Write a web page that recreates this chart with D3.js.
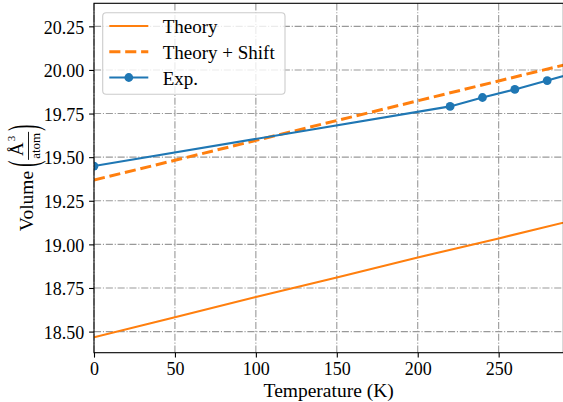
<!DOCTYPE html>
<html><head><meta charset="utf-8">
<script src="https://cdn.jsdelivr.net/npm/d3@7"></script>
<style>html,body{margin:0;padding:0;overflow:hidden;background:#fff}
svg text{font-family:"Liberation Serif",serif;fill:#000}</style>
</head><body><svg id="c" width="563" height="402"></svg>
<script>
const xTicks = [0, 50, 100, 150, 200, 250];
const yTicks = [18.50, 18.75, 19.00, 19.25, 19.50, 19.75, 20.00, 20.25];
const theoryT = [0, 50, 100, 150, 200, 250, 300];
const theoryV = [18.467, 18.582, 18.698, 18.810, 18.925, 19.034, 19.147];
const shiftT = [0, 50, 100, 150, 200, 250, 300];
const shiftV = [19.369, 19.482, 19.596, 19.710, 19.823, 19.937, 20.050];
const expT = [0, 220, 240, 260, 280, 300];
const expV = [19.449, 19.791, 19.842, 19.888, 19.939, 19.992];
const legendLabels = ["Theory", "Theory + Shift", "Exp."];

const C_BLUE = "#1f77b4", C_ORANGE = "#ff7f0e";
const L = 94, R = 563.4, T = 3.3, B = 352.7;

const svg = d3.select("#c");
const x = d3.scaleLinear([0, 290], [L, R]);
const y = d3.scaleLinear([18.379, 20.382], [B, T]);

svg.append("defs").append("clipPath").attr("id", "clip")
  .append("rect").attr("x", L).attr("y", T).attr("width", R - L).attr("height", B - T);

// grid
const grid = svg.append("g").attr("stroke", "#999").attr("stroke-width", 1.1)
  .attr("stroke-dasharray", "7.1 1.8 1.1 1.8").attr("fill", "none");
grid.selectAll(".gx").data(xTicks).join("line")
  .attr("x1", d => x(d)).attr("x2", d => x(d)).attr("y1", T).attr("y2", B);
grid.selectAll(".gy").data(yTicks).join("line")
  .attr("y1", d => y(d)).attr("y2", d => y(d)).attr("x1", L).attr("x2", R);

// data
const plot = svg.append("g").attr("clip-path", "url(#clip)");
const line = d3.line().x(d => x(d[0])).y(d => y(d[1]));
plot.append("path").datum(d3.zip(theoryT, theoryV)).attr("d", line)
  .attr("fill", "none").attr("stroke", C_ORANGE).attr("stroke-width", 2.1);
plot.append("path").datum(d3.zip(shiftT, shiftV)).attr("d", line)
  .attr("fill", "none").attr("stroke", C_ORANGE).attr("stroke-width", 3)
  .attr("stroke-dasharray", "11.1 4.8");
plot.append("path").datum(d3.zip(expT, expV)).attr("d", line)
  .attr("fill", "none").attr("stroke", C_BLUE).attr("stroke-width", 2.1);
plot.selectAll(".m").data(d3.zip(expT, expV)).join("circle")
  .attr("cx", d => x(d[0])).attr("cy", d => y(d[1])).attr("r", 4.4).attr("fill", C_BLUE);

// axes
const ax = svg.append("g").attr("transform", `translate(0,${B})`)
  .call(d3.axisBottom(x).tickValues(xTicks).tickFormat(d3.format("d")).tickSize(4.9).tickPadding(4.9).tickSizeOuter(0));
const ay = svg.append("g").attr("transform", `translate(${L},0)`)
  .call(d3.axisLeft(y).tickValues(yTicks).tickFormat(d3.format(".2f")).tickSize(4.9).tickPadding(4.9).tickSizeOuter(0));
[ax, ay].forEach(g => {
  g.attr("font-family", null).attr("font-size", null);
  g.select(".domain").remove();
  g.selectAll("line").attr("stroke", "#000").attr("stroke-width", 1.1);
  g.selectAll("text").attr("font-size", 18);
});
ay.selectAll("text").attr("dy", "0.38em");

// spines
svg.append("rect").attr("x", L).attr("y", T).attr("width", R - L).attr("height", B - T)
  .attr("fill", "none").attr("stroke", "#000").attr("stroke-width", 1.1);

// x label
svg.append("text").attr("x", (L + R) / 2).attr("y", 396.5).attr("text-anchor", "middle")
  .attr("font-size", 19.5).text("Temperature (K)");

// y label (rotated, with fraction)
const yl = svg.append("g");
const inner = yl.append("g");
let u = 0;
const tVol = inner.append("text").attr("x", 0).attr("y", 0).attr("font-size", 19.5).text("Volume");
u += tVol.node().getComputedTextLength() + 4;
const PS = 2.3, PB = 3.5;
const lp = inner.append("text").attr("font-size", 18).attr("transform", `translate(${u},${PB}) scale(1,${PS})`)
  .text("(");
u += lp.node().getComputedTextLength() + 1;
const num = inner.append("text").attr("font-size", 19).attr("y", -10.5).text("Å");
const sup = inner.append("text").attr("font-size", 11).attr("y", -18).text("3");
const den = inner.append("text").attr("font-size", 13).attr("y", 6.5).text("atom");
const wNum = num.node().getComputedTextLength() + sup.node().getComputedTextLength() + 1;
const wDen = den.node().getComputedTextLength();
const wFr = Math.max(wNum, wDen) + 2;
num.attr("x", u + (wFr - wNum) / 2);
sup.attr("x", u + (wFr - wNum) / 2 + num.node().getComputedTextLength() + 1);
den.attr("x", u + (wFr - wDen) / 2);
inner.append("line").attr("x1", u).attr("x2", u + wFr).attr("y1", -4.5).attr("y2", -4.5)
  .attr("stroke", "#000").attr("stroke-width", 0.9);
u += wFr + 1;
const rp = inner.append("text").attr("font-size", 18).attr("transform", `translate(${u},${PB}) scale(1,${PS})`)
  .text(")");
u += rp.node().getComputedTextLength();
inner.attr("transform", `translate(${-u / 2},0)`);
yl.attr("transform", `translate(33,${(T + B) / 2}) rotate(-90)`);

// legend
const lg = svg.append("g");
lg.append("rect").attr("x", 102.7).attr("y", 12.7).attr("width", 182.3).attr("height", 81.6)
  .attr("rx", 3.5).attr("fill", "#fff").attr("fill-opacity", 0.8).attr("stroke", "#ccc").attr("stroke-width", 1.1);
const rowsY = [26, 51.7, 77.5];
const styles = [
  {c: C_ORANGE, w: 2.1, dash: null, m: false},
  {c: C_ORANGE, w: 3, dash: "11.1 4.8", m: false},
  {c: C_BLUE, w: 2.1, dash: null, m: true}
];
legendLabels.forEach((lab, i) => {
  const s = styles[i];
  lg.append("line").attr("x1", 109.3).attr("x2", 148.3).attr("y1", rowsY[i]).attr("y2", rowsY[i])
    .attr("stroke", s.c).attr("stroke-width", s.w).attr("stroke-dasharray", s.dash);
  if (s.m) lg.append("circle").attr("cx", 128.8).attr("cy", rowsY[i]).attr("r", 4.4).attr("fill", s.c);
  lg.append("text").attr("x", 162.7).attr("y", rowsY[i] + 7.3).attr("font-size", 19).text(lab);
});
</script></body></html>
